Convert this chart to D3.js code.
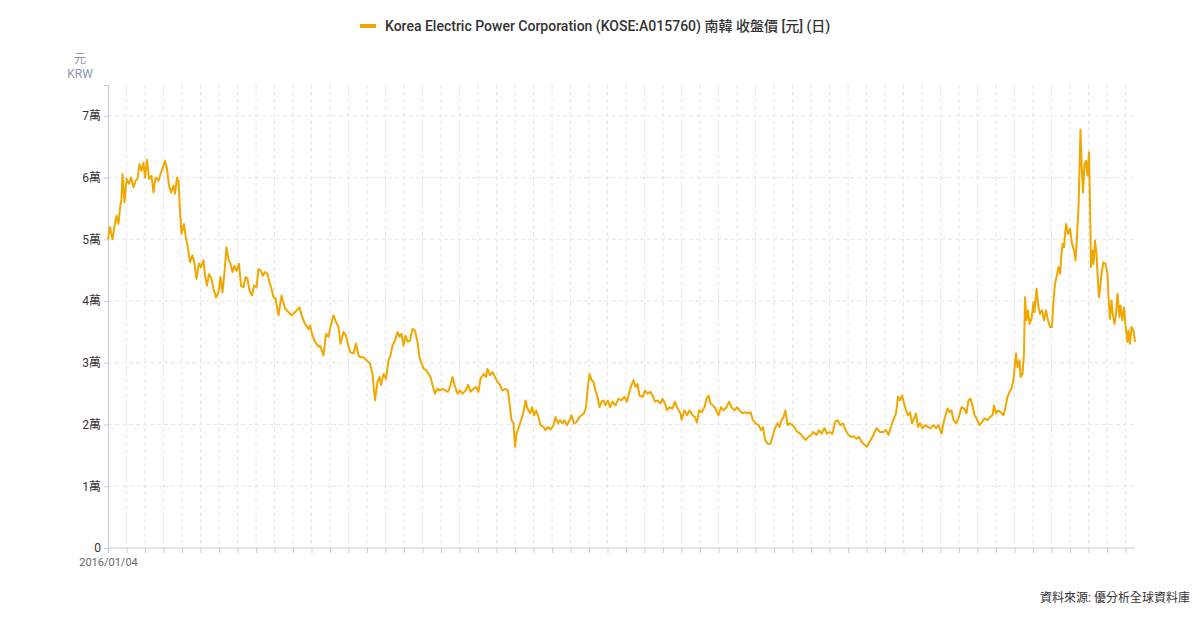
<!DOCTYPE html>
<html>
<head>
<meta charset="utf-8">
<script src="https://cdn.jsdelivr.net/npm/d3@7"></script>
<style>
  body { margin: 0; background: #fff; font-family: Roboto, "Noto Sans CJK TC", sans-serif; }
  .grid line { stroke: #e6e6e6; stroke-dasharray: 4,3; }
  .axis path, .axis line { stroke: #c9ccd6; }
</style>
</head>
<body>
<script>
var width = 1200, height = 619;
var margin = {top: 85, left: 108, right: 65, bottom: 71};

var seriesName = "Korea Electric Power Corporation (KOSE:A015760) 南韓 收盤價 [元] (日)";
var firstDate = "2016/01/04";
var source = "資料來源: 優分析全球資料庫";
var yTicks = [0, 10000, 20000, 30000, 40000, 50000, 60000, 70000];
var yTickLabels = ["0", "1萬", "2萬", "3萬", "4萬", "5萬", "6萬", "7萬"];

// trading-session index since 2016/01/04
var days = [0,4,9,14,17,21,24,27,29,33,37,42,46,51,55,59,63,67,71,74,78,82,87,91,95,101,105,109,114,118,122,126,131,134,138,141,144,147,152,155,159,164,169,173,177,182,186,191,194,198,202,207,211,216,221,225,229,233,237,241,245,249,253,257,262,266,271,275,279,283,288,292,297,301,306,310,314,319,323,
  327,331,335,341,347,354,361,367,374,383,387,394,401,404,409,414,421,424,431,436,441,444,451,456,461,465,471,476,481,485,491,496,501,505,
  511,517,524,529,534,539,543,546,551,556,561,565,569,574,579,583,587,591,595,599,604,609,614,619,623,627,632,636,641,645,649,654,659,664,669,675,680,685,689,693,699,704,709,715,720,725,731,736,741,745,751,756,759,764,769,774,779,784,789,795,800,804,807,811,814,817,821,826,831,835,839,844,848,852,856,861,865,871,875,880,885,891,895,900,904,909,913,918,923,927,932,937,943,947,952,956,959,963,967,971,975,979,983,987,991,995,1000,1004,1009,1015,1021,
  1027,1033,1038,1043,1047,1051,1055,1059,1063,1069,1074,1079,1085,1090,1094,1099,1105,1109,1114,1118,1123,1129,1134,1139,1145,1147,1153,1158,1163,1169,1174,1178,1182,1187,1193,1197,1201,1205,1210,1215,1221,1226,1231,1237,1242,1247,1253,1258,1263,1269,1274,1279,1285,1290,1295,1301,1306,1310,1314,1319,1325,1330,1334,1339,1343,1347,1351,1355,1359,1363,1369,1374,1379,1385,1390,1395,1401,1406,1411,1417,1422,1427,1433,1438,1443,1449,1454,1459,1465,1470,1475,1481,1486,1491,1497,1502,1507,1513,1518,1523,1529,
  1537,1544,1551,1556,1561,1567,1572,1576,1580,1584,1588,1592,1596,1600,1604,1608,1612,1616,1620,1624,1629,1635,1640,1645,1651,1656,1661,1667,1671,1675,1679,1683,1687,1691,1696,1701,1707,1712,1717,1721,1725,1729,1733,1737,1743,1748,1753,1759,1764,1769,1772,1776,1780,1785,1791,1795,1799,1803,1807,1811,1813,1816,1819,1823,1825,1829,1832,1834,1837,1840,1843,1847,1851,1853,1857,1861,1864,1868,1872,1876,1880,1884,1888,1891,1894,1897,1901,1904,1907,1909,1912,1916,1920,1924,1928,1932,1935,1937,1941,1943,1945,1947,1950,1953,1956,1959,1962,1964,1966,1969,1971,1974,1977,1979,1982,1985,1987,1991,1995,1999,2001,2004,2007,2009,2013,2016,2019,2023,2025,2029,2032,2035,2039,2041,2044,2047,2051,2054];

var prices = [50000,52000,50000,52700,53800,52500,55000,56600,60600,56000,59800,59000,60000,58400,59500,59800,62200,61100,62400,60000,62900,59800,60300,57600,60000,59500,60600,61400,62700,61400,58700,57600,58700,57400,60000,59500,54600,50900,52500,50600,49000,46300,47400,46100,43600,46100,45500,46600,44100,42500,44400,43600,42000,40600,41400,43900,41400,44700,48700,46800,46000,44700,45700,44900,46000,42500,42200,43900,43600,41700,40900,42500,42200,45200,44900,44100,44700,44400,43000,
  42000,40600,40400,37700,40900,38800,38200,37700,38200,39000,37700,36300,35500,36000,34400,33400,32600,32800,31200,34700,34200,35500,37700,36600,35800,33100,35000,34400,32600,31700,31500,33100,31200,30900,
  30900,30400,29900,28200,23900,26900,27700,26400,28200,27400,30400,31200,32800,33600,35000,34200,34700,32800,34400,33400,33600,35500,35200,33400,30900,29900,29000,28800,28200,27700,26400,25000,25800,25500,25800,25500,25300,26400,27700,26400,25000,25500,25000,25500,26400,25300,25800,26100,25300,27400,28200,27700,29000,28000,28500,27700,26900,26400,25500,25800,25500,22800,20700,20200,16400,18500,19400,20700,22000,23900,22600,21800,22800,21500,22300,21200,19900,19600,19100,19600,19200,19900,21200,20200,20700,20200,20700,19900,20700,21500,20200,20400,21200,21500,21800,22800,25500,28200,27200,26900,25500,24500,22800,23700,23900,23100,23900,22800,23700,23100,24200,
  23900,24500,23700,25300,26400,27200,26100,26600,24700,24500,25500,25000,25300,24500,23700,23900,23400,24200,23400,22300,22800,22600,23700,22600,21800,20800,22300,21500,22300,21500,21200,20300,22300,22000,22800,24200,24700,23400,23100,22600,21500,22800,22300,22800,23700,22800,22300,22800,22300,21800,22000,21800,22000,20700,20200,19900,19100,19600,17500,16900,16900,18300,19400,20200,19600,20700,21200,22300,19900,20200,19900,19400,18800,18500,18000,17500,18000,18300,18800,18300,19100,18500,19400,18500,18800,18500,20400,20700,19900,20200,19100,18300,18000,18100,17700,18000,17200,16700,16400,17200,18000,
  19400,18800,18800,19100,18300,19900,21000,21800,24500,23900,24700,23400,22300,21500,22000,20200,21000,21800,19600,20200,19400,19900,19600,19400,19900,19400,19900,18500,20200,21500,22600,22000,22300,20700,20200,21000,22800,22600,21800,23900,24200,23100,21500,21000,19900,20400,21000,20700,21200,21500,23100,21800,22300,22000,21500,22800,24500,25300,25800,27200,29000,31500,29300,30400,27700,28200,31500,40600,36900,38500,36300,37100,39800,38200,42000,39000,37900,38500,36900,38500,36900,35800,35800,40100,42800,43900,45500,44400,47600,49300,48700,52500,50900,51700,49300,48200,46600,49000,55200,61100,67800,62700,57600,62200,62700,60300,64100,55700,45500,48200,46000,49800,47600,44400,40600,42800,44400,46300,46000,44400,40600,37100,40100,38200,36300,37900,41200,37400,39300,36900,39000,36000,33400,35200,33100,35800,35200,33400];

var tickEvery = 37;
var lastDay = days[days.length - 1];

var svg = d3.select("body").append("svg")
    .attr("width", width)
    .attr("height", height);

var x = d3.scaleLinear()
    .domain([0, lastDay])
    .range([margin.left, width - margin.right]);

var y = d3.scaleLinear()
    .domain([0, 75000])
    .range([height - margin.bottom, margin.top]);

var xTicks = d3.range(0, lastDay, tickEvery);

// grid
svg.append("g")
    .attr("class", "grid")
    .selectAll("line.v")
    .data(xTicks.slice(1))
    .enter().append("line")
    .attr("x1", function (d) { return x(d); })
    .attr("x2", function (d) { return x(d); })
    .attr("y1", y.range()[1])
    .attr("y2", y.range()[0]);

svg.append("g")
    .attr("class", "grid")
    .selectAll("line")
    .data(yTicks.slice(1))
    .enter().append("line")
    .attr("x1", x.range()[0])
    .attr("x2", x.range()[1])
    .attr("y1", function (d) { return y(d); })
    .attr("y2", function (d) { return y(d); });

// axes
var yAxis = svg.append("g")
    .attr("class", "axis")
    .attr("transform", "translate(" + margin.left + ",0)")
    .call(d3.axisLeft(y).tickValues(yTicks).tickSize(4).tickPadding(3)
        .tickFormat(function (d, i) { return yTickLabels[i]; }));
yAxis.selectAll("text")
    .attr("fill", "#333")
    .style("font-size", "12px")
    .style("font-family", "Roboto, 'Noto Sans CJK TC', sans-serif");

var xAxis = svg.append("g")
    .attr("class", "axis")
    .attr("transform", "translate(0," + y(0) + ")")
    .call(d3.axisBottom(x).tickValues(xTicks).tickSize(5).tickSizeOuter(0)
        .tickFormat(function (d) { return d === 0 ? firstDate : ""; }));
xAxis.selectAll("text")
    .attr("fill", "#666")
    .attr("y", 10)
    .attr("dy", "0.71em")
    .style("font-size", "11px")
    .style("font-family", "Roboto, sans-serif");
xAxis.select(".domain").attr("d", "M" + x.range()[0] + ",0H" + x.range()[1]);

// unit label
svg.append("text")
    .attr("x", 80).attr("y", 63)
    .attr("text-anchor", "middle")
    .attr("fill", "#8d95ad")
    .style("font-size", "12px")
    .text("元");
svg.append("text")
    .attr("x", 80).attr("y", 78)
    .attr("text-anchor", "middle")
    .attr("fill", "#8d95ad")
    .style("font-size", "12px")
    .text("KRW");

// price line
var pts = days.map(function (d, i) { return [d, prices[i]]; });
var line = d3.line()
    .x(function (d) { return x(d[0]); })
    .y(function (d) { return y(d[1]); });

svg.append("path")
    .datum(pts)
    .attr("fill", "none")
    .attr("stroke", "#f0a800")
    .attr("stroke-width", 2)
    .attr("stroke-linejoin", "round")
    .attr("d", line);

// legend
var legend = svg.append("g").attr("transform", "translate(360,26)");
legend.append("line")
    .attr("x1", 0).attr("x2", 16)
    .attr("stroke", "#f0a800")
    .attr("stroke-width", 4);
legend.append("text")
    .attr("x", 25).attr("y", 5)
    .attr("fill", "#333")
    .style("font-size", "14px")
    .style("font-weight", 500)
    .text(seriesName);

// source
svg.append("text")
    .attr("x", 1190).attr("y", 602)
    .attr("text-anchor", "end")
    .attr("fill", "#333")
    .style("font-size", "12px")
    .text(source);
</script>
</body>
</html>
